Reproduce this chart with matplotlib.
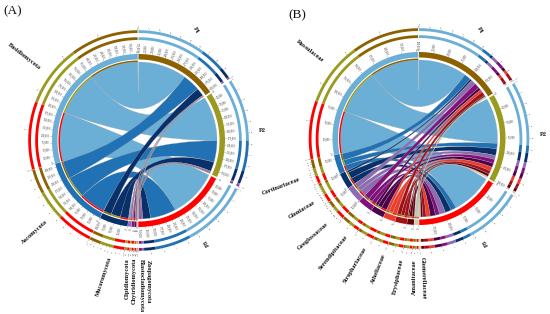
import numpy as np
import matplotlib
matplotlib.use("Agg")
import matplotlib.pyplot as plt
from matplotlib.path import Path
from matplotlib.patches import PathPatch

# ---------- data: reads per plot (rows of links) ----------
plots = ["P1", "P2", "P3"]
plot_colors = ["#8C6100", "#9A9A1E", "#FF0000"]

phyla = ["Basidiomycota", "Ascomycota", "Mucoromycota", "Olpidiomycota",
         "Chytridiomycota", "Blastocladiomycota", "Zoopagomycota"]
phyla_colors = ["#6BAED6", "#2171B5", "#08306B", "#8C6BB1", "#810F7C", "#4D004B", "#CFCBB0"]
phyla_p1 = [198000, 71500, 33000, 2200, 1650, 1100, 550]
phyla_p2 = [181500, 88000, 38500, 4400, 3300, 1650, 1100]
phyla_p3 = [198000, 104500, 33000, 6600, 6050, 2750, 1650]

families = ["Russulaceae", "Cortinariaceae", "Gloniaceae", "Geoglossaceae",
            "Serendipitaceae", "Strophariaceae", "Atheliaceae", "Erysiphaceae",
            "Amanitaceae", "Glomerellaceae"]
family_colors = ["#6BAED6", "#2171B5", "#08306B", "#8C6BB1", "#810F7C", "#4D004B",
                 "#EF3B2C", "#A50F15", "#67000D", "#CFCBB0"]
families_p1 = [90000, 12500, 3750, 8750, 10000, 5000, 5000, 7500, 2500, 2500]
families_p2 = [85000, 10000, 12500, 7500, 7500, 7500, 7500, 6250, 5000, 2500]
families_p3 = [77500, 10000, 11250, 11250, 7500, 10000, 7500, 6250, 4000, 2500]

# label placement (pixels) : text, x, y, rotation
labels_a = [("Basidiomycota", 24, 56, -38), ("Ascomycota", 35, 232, 42),
            ("Mucoromycota", 104, 277, 72), ("Olpidiomycota", 127, 279, 90),
            ("Chytridiomycota", 134, 281, 90), ("Blastocladiomycota", 141, 286, -90),
            ("Zoopagomycota", 148, 282, -90), ("P1", 196, 30, -60),
            ("P2", 262, 131, 0), ("P3", 207, 243, 120)]
labels_b = [("Russulaceae", 310, 51, -38), ("Cortinariaceae", 281, 186, 21),
            ("Gloniaceae", 302, 210, 31), ("Geoglossaceae", 313, 236, 41),
            ("Serendipitaceae", 333, 253, 51), ("Strophariaceae", 355, 265, 59),
            ("Atheliaceae", 378, 269, 68), ("Erysiphaceae", 398, 277, 78),
            ("Amanitaceae", 414, 277, 90), ("Glomerellaceae", 423, 278, -88),
            ("P1", 480, 30, -60), ("P2", 543, 135, 0), ("P3", 486, 243, 120)]

SERIF = "Liberation Serif"
fig = plt.figure(figsize=(5.5, 3.14), dpi=100)
ax = fig.add_axes([0, 0, 1, 1])
ax.set_xlim(0, 550)
ax.set_ylim(314, 0)
ax.axis("off")


def xy(cx, cy, deg, r):
    t = np.radians(deg)
    return cx + r * np.sin(t), cy - r * np.cos(t)


def band(cx, cy, a0, a1, r0, r1, color, z=3):
    a = np.linspace(a0, a1, max(2, int(abs(a1 - a0) * 2) + 2))
    xo, yo = xy(cx, cy, a, r1)
    xi, yi = xy(cx, cy, a[::-1], r0)
    ax.fill(np.r_[xo, xi], np.r_[yo, yi], color=color, lw=0, zorder=z)


def ribbon(cx, cy, p0, p1, t0, t1, r, color, z):
    ap = np.linspace(p0, p1, max(2, int(abs(p1 - p0)) * 2 + 2))
    at = np.linspace(t0, t1, max(2, int(abs(t1 - t0)) * 2 + 2))
    px, py = xy(cx, cy, ap, r)
    tx, ty = xy(cx, cy, at, r)
    v = [(px[0], py[0])] + list(zip(px[1:], py[1:]))
    c = [Path.MOVETO] + [Path.LINETO] * (len(ap) - 1)
    v += [(cx, cy), (tx[0], ty[0])]
    c += [Path.CURVE3, Path.CURVE3]
    v += list(zip(tx[1:], ty[1:]))
    c += [Path.LINETO] * (len(at) - 1)
    v += [(cx, cy), (px[0], py[0])]
    c += [Path.CURVE3, Path.CURVE3]
    ax.add_patch(PathPatch(Path(v, c), fc=color, ec="#A8A8A8", lw=0.2, zorder=z))


def radial_text(cx, cy, deg, r, s, size, color="#222222"):
    d = deg % 360
    x, y = xy(cx, cy, deg, r)
    if d <= 180:
        rot, ha = 90 - d, "left"
    else:
        rot, ha = 270 - d, "right"
    ax.text(x, y, s, fontsize=size, family=SERIF, rotation=rot, ha=ha, va="center",
            rotation_mode="anchor", color=color, zorder=6)


def chord(cx, cy, taxa, taxa_colors, links, gaps, tick_step):
    links = np.array(links, float)          # rows: plots, cols: taxa
    plot_tot = links.sum(axis=1)
    tax_tot = links.sum(axis=0)
    scale = (360 - sum(gaps)) / (plot_tot.sum() + tax_tot.sum())
    R_link, R_track, R_in, R_out = 78.5, 80, 81, 86.5
    # sector order clockwise from the top: plots, then taxa reversed
    order = [("p", i) for i in range(3)] + [("t", i) for i in range(len(taxa) - 1, -1, -1)]
    a = 0.0
    start = {}
    for key, g in zip(order, gaps):
        total = plot_tot[key[1]] if key[0] == "p" else tax_tot[key[1]]
        start[key] = a
        a += total * scale + g

    def draw_sector(key, total, color, segs):
        a0 = start[key]
        a1 = a0 + total * scale
        band(cx, cy, a0, a1, R_in, R_out, color, 4)
        for r0, r1 in ((100.5, 103.3), (107.5, 110.3)):
            for s0, s1, c in segs:
                band(cx, cy, s0, s1, r0, r1, c, 4)
        # read ticks
        for v in np.arange(0, total + 1, tick_step):
            d = a0 + v * scale
            x0, y0 = xy(cx, cy, d, R_out + 0.3)
            x1, y1 = xy(cx, cy, d, R_out + 1.6)
            ax.plot([x0, x1], [y0, y1], color="#444444", lw=0.2, zorder=5)
            radial_text(cx, cy, d, R_out + 2.3, f"{int(v):,}", 1.9, "#2a2a2a")
        # percent ticks
        span = a1 - a0
        step = 20 if span > 80 else (10 if span > 10 else 50)
        for v in range(0, 101, step):
            d = a0 + span * v / 100
            x0, y0 = xy(cx, cy, d, 110.5)
            x1, y1 = xy(cx, cy, d, 111.6)
            ax.plot([x0, x1], [y0, y1], color="#555555", lw=0.2, zorder=5)
            radial_text(cx, cy, d, 112.6, str(v), 1.6, "#444444")

    # plot-side segments: clockwise in taxa order
    plot_pos = {}
    for i in range(3):
        a_ = start[("p", i)]
        segs = []
        for j in range(len(taxa)):
            w = links[i, j] * scale
            plot_pos[(i, j)] = (a_, a_ + w)
            segs.append((a_, a_ + w, taxa_colors[j]))
            a_ += w
        draw_sector(("p", i), plot_tot[i], plot_colors[i], segs)

    # taxon-side segments: clockwise P3, P2, P1
    tax_pos = {}
    for j in range(len(taxa)):
        a_ = start[("t", j)]
        segs = []
        for i in (2, 1, 0):
            w = links[i, j] * scale
            tax_pos[(i, j)] = (a_, a_ + w)
            segs.append((a_, a_ + w, plot_colors[i]))
            band(cx, cy, a_, a_ + w, R_link, R_track, plot_colors[i], 4)
            a_ += w
        draw_sector(("t", j), tax_tot[j], taxa_colors[j], segs)

    z = 2.0
    for j in range(len(taxa)):
        for i in range(3):
            p0, p1 = plot_pos[(i, j)]
            t0, t1 = tax_pos[(i, j)]
            ribbon(cx, cy, p0, p1, t0, t1, R_link, taxa_colors[j], z)
            z += 0.01


gaps_a = [1.2, 1.2, 0.4, 0.2, 0.2, 0.2, 0.2, 0.2, 0.2, 0.5]
gaps_b = [1.2, 1.2, 0.4] + [0.2] * 9 + [0.5]
chord(138.5, 140.5, phyla, phyla_colors, [phyla_p1, phyla_p2, phyla_p3], gaps_a, 25000)
chord(419, 138.5, families, family_colors, [families_p1, families_p2, families_p3],
      gaps_b, 25000)

for s, x, y, r in labels_a + labels_b:
    ax.text(x, y, s, fontsize=4.6, family=SERIF, weight="bold", rotation=r,
            ha="center", va="center", rotation_mode="anchor", color="#111111", zorder=7)

ax.text(12.5, 11.5, "(A)", fontsize=9.5, family=SERIF, ha="center", va="center", color="#111111")
ax.text(297, 15, "(B)", fontsize=9.5, family=SERIF, ha="center", va="center", color="#111111")

fig.savefig("out.png", dpi=100, facecolor="white")
